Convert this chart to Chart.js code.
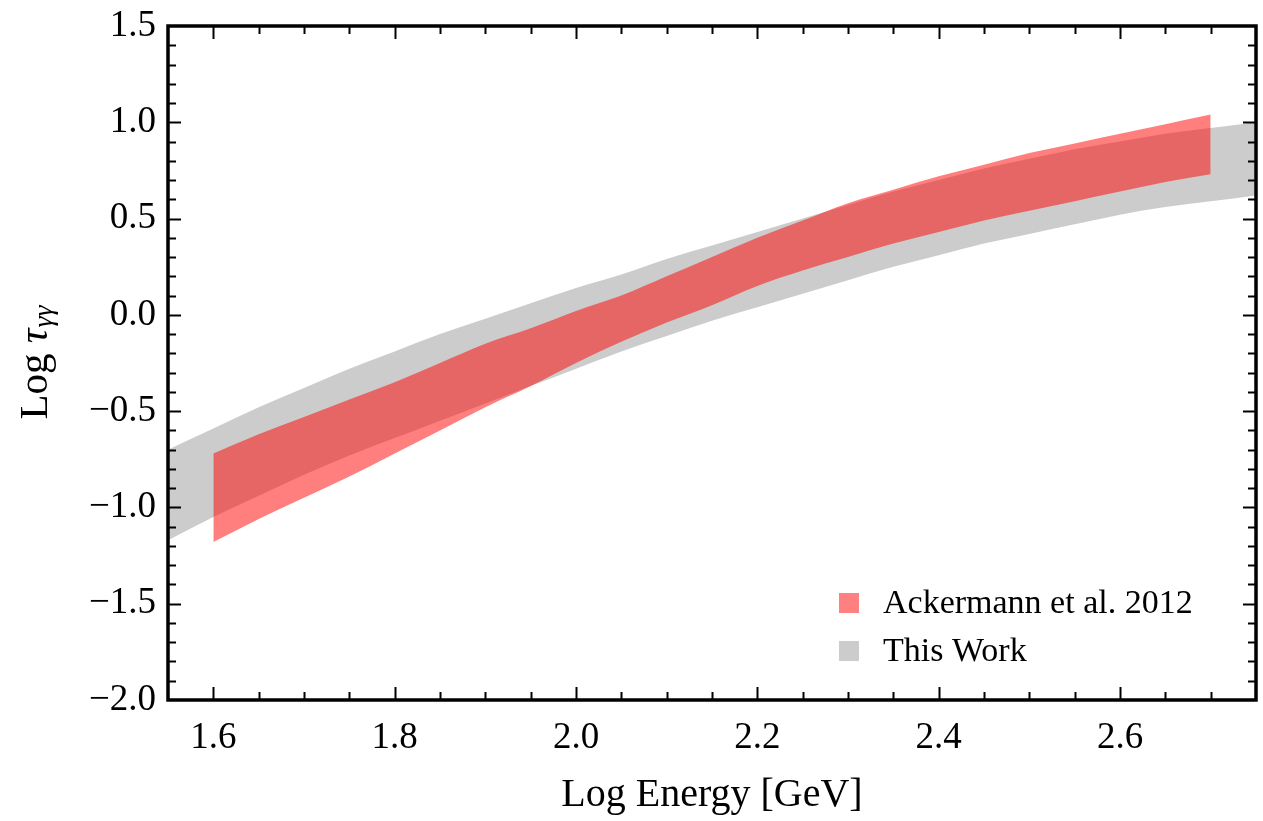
<!DOCTYPE html>
<html>
<head>
<meta charset="utf-8">
<script src="https://cdn.jsdelivr.net/npm/chart.js@4/dist/chart.umd.min.js"></script>
<style>
  html, body { margin: 0; padding: 0; background: #fff; }
  #wrap { width: 1263px; height: 821px; }
</style>
</head>
<body>
<div id="wrap"><canvas id="tauChart" width="1263" height="821"></canvas></div>
<script>
// Log energy grid of each band
const grayEnergy = [1.55, 1.60, 1.65, 1.70, 1.75, 1.80, 1.85, 1.90, 1.95, 2.00, 2.05, 2.10, 2.15,
                    2.20, 2.25, 2.30, 2.35, 2.40, 2.45, 2.50, 2.55, 2.60, 2.65, 2.70, 2.75];
const redEnergy = [1.60, 1.65, 1.70, 1.75, 1.80, 1.85, 1.90, 1.95, 2.00, 2.05, 2.10, 2.15,
                   2.20, 2.25, 2.30, 2.35, 2.40, 2.45, 2.50, 2.55, 2.60, 2.65, 2.70];

// "This Work" band (Log tau)
const thisWorkUpper = [-0.70, -0.59, -0.48, -0.38, -0.28, -0.19, -0.10, -0.02, 0.06, 0.14, 0.21, 0.29, 0.36,
                       0.43, 0.50, 0.57, 0.64, 0.70, 0.76, 0.81, 0.86, 0.90, 0.94, 0.97, 1.00];
const thisWorkLower = [-1.17, -1.05, -0.94, -0.83, -0.73, -0.64, -0.55, -0.46, -0.37, -0.28, -0.19, -0.11, -0.03,
                       0.04, 0.11, 0.18, 0.25, 0.31, 0.37, 0.42, 0.47, 0.52, 0.56, 0.59, 0.62];

// Ackermann et al. 2012 band (Log tau)
const ackUpper = [-0.72, -0.62, -0.53, -0.44, -0.35, -0.25, -0.15, -0.07, 0.02, 0.10, 0.20, 0.30,
                  0.40, 0.49, 0.58, 0.65, 0.72, 0.78, 0.84, 0.89, 0.94, 0.99, 1.04];
const ackLower = [-1.18, -1.06, -0.95, -0.84, -0.72, -0.60, -0.48, -0.37, -0.25, -0.14, -0.04, 0.05,
                  0.15, 0.23, 0.30, 0.37, 0.43, 0.49, 0.54, 0.59, 0.64, 0.69, 0.73];

const seriesNames = ["Ackermann et al. 2012", "This Work"];
const seriesColors = ["rgba(255, 0, 0, 0.5)", "#cccccc"];
const legendSwatch = ["#ff8080", "#cccccc"];

const xTicks = [1.6, 1.8, 2.0, 2.2, 2.4, 2.6];
const yTicks = [-2.0, -1.5, -1.0, -0.5, 0.0, 0.5, 1.0, 1.5];

const serif = "'Liberation Serif', 'Times New Roman', serif";

function pts(xs, ys) {
  return xs.map((x, i) => ({ x: x, y: ys[i] }));
}
function fmt(v) {
  return v.toFixed(1).replace("-", "\u2212");
}

function band(label, xs, ys, fill, color) {
  return {
    label: label,
    data: pts(xs, ys),
    borderWidth: 0,
    borderColor: "transparent",
    backgroundColor: color,
    pointRadius: 0,
    cubicInterpolationMode: "monotone",
    fill: fill
  };
}

// frame with inward ticks on all four sides, like the original
const framePlugin = {
  id: "frame",
  afterDraw(chart) {
    const { ctx, chartArea: a, scales } = chart;
    const xs = scales.x, ys = scales.y;
    ctx.save();
    ctx.strokeStyle = "#000";
    ctx.lineWidth = 2;
    const tick = (x1, y1, x2, y2) => { ctx.beginPath(); ctx.moveTo(x1, y1); ctx.lineTo(x2, y2); ctx.stroke(); };
    for (let k = 1; k < 24; k++) {
      const v = 1.55 + k * 0.05;
      const px = Math.round(xs.getPixelForValue(v)) + 0.5;
      const major = xTicks.some(t => Math.abs(t - v) < 1e-6);
      const len = major ? 13 : 8;
      tick(px, a.bottom, px, a.bottom - len);
      tick(px, a.top, px, a.top + len);
    }
    for (let k = 1; k < 35; k++) {
      const v = -2.0 + k * 0.1;
      const py = Math.round(ys.getPixelForValue(v)) + 0.5;
      const major = yTicks.some(t => Math.abs(t - v) < 1e-6);
      const len = major ? 13 : 8;
      tick(a.left, py, a.left + len, py);
      tick(a.right, py, a.right - len, py);
    }
    ctx.lineWidth = 3.5;
    ctx.strokeRect(a.left, a.top, a.right - a.left, a.bottom - a.top);

    // legend
    ctx.textBaseline = "middle";
    ctx.textAlign = "left";
    ctx.font = "34px " + serif;
    const rows = [603, 651];
    seriesNames.forEach((name, i) => {
      ctx.fillStyle = legendSwatch[i];
      ctx.fillRect(839, rows[i] - 10, 20, 20);
      ctx.fillStyle = "#000";
      ctx.fillText(name, 883, rows[i] + 1);
    });

    // axis titles
    ctx.textAlign = "center";
    ctx.font = "40px " + serif;
    ctx.fillText("Log Energy [GeV]", (a.left + a.right) / 2, 795);

    ctx.translate(36, (a.top + a.bottom) / 2);
    ctx.rotate(-Math.PI / 2);
    ctx.textAlign = "left";
    const p1 = "Log ", p2 = "\u03C4", p3 = "\u03B3\u03B3";
    ctx.font = "41px " + serif;
    const w1 = ctx.measureText(p1).width;
    ctx.font = "italic 41px " + serif;
    const w2 = ctx.measureText(p2).width;
    ctx.font = "italic 28px " + serif;
    const w3 = ctx.measureText(p3).width;
    let x0 = -(w1 + w2 + w3) / 2;
    ctx.font = "41px " + serif;
    ctx.fillText(p1, x0, 0);
    ctx.font = "italic 41px " + serif;
    ctx.fillText(p2, x0 + w1, 0);
    ctx.font = "italic 28px " + serif;
    ctx.fillText(p3, x0 + w1 + w2 + 1, 9);
    ctx.restore();
  }
};

new Chart(document.getElementById("tauChart").getContext("2d"), {
  type: "line",
  data: {
    datasets: [
      band(seriesNames[0] + " low", redEnergy, ackLower, false, seriesColors[0]),
      band(seriesNames[0], redEnergy, ackUpper, "-1", seriesColors[0]),
      band(seriesNames[1] + " low", grayEnergy, thisWorkLower, false, seriesColors[1]),
      band(seriesNames[1], grayEnergy, thisWorkUpper, "-1", seriesColors[1])
    ]
  },
  options: {
    responsive: false,
    animation: false,
    layout: { padding: { top: 26, right: 7, left: 0, bottom: 0 } },
    plugins: { legend: { display: false }, tooltip: { enabled: false } },
    scales: {
      x: {
        type: "linear",
        min: 1.55,
        max: 2.75,
        afterBuildTicks: s => { s.ticks = xTicks.map(v => ({ value: v })); },
        afterFit: s => { s.height = 121; s.paddingLeft = 0; s.paddingRight = 0; },
        grid: { display: false, drawTicks: false },
        border: { display: false },
        ticks: {
          color: "#000",
          font: { family: serif, size: 37 },
          padding: 16,
          maxRotation: 0,
          autoSkip: false,
          callback: v => fmt(v)
        }
      },
      y: {
        type: "linear",
        min: -2.0,
        max: 1.5,
        afterBuildTicks: s => { s.ticks = yTicks.map(v => ({ value: v })); },
        afterFit: s => { s.width = 168; s.paddingTop = 0; s.paddingBottom = 0; },
        grid: { display: false, drawTicks: false },
        border: { display: false },
        ticks: {
          color: "#000",
          font: { family: serif, size: 37 },
          padding: 12,
          autoSkip: false,
          callback: v => fmt(v)
        }
      }
    }
  },
  plugins: [framePlugin]
});
</script>
</body>
</html>
